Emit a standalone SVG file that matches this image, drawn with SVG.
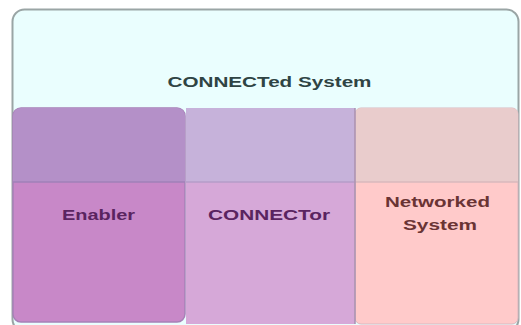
<svg xmlns="http://www.w3.org/2000/svg" width="521" height="325" viewBox="0 0 521 325">
<style>
.t{font-family:"Liberation Sans",Arial,sans-serif;font-weight:bold;font-size:14px;text-anchor:middle}
.col{stroke-width:1.5}
</style>
<rect width="521" height="325" fill="#ffffff"/>
<g id="connected-system">
<rect x="12.5" y="9.5" width="506" height="322" rx="12" fill="#eafefe" stroke="#9aa5a5" stroke-width="2"/>
<text class="t" x="269.5" y="87" fill="#2f4444" textLength="204" lengthAdjust="spacingAndGlyphs">CONNECTed System</text>
</g>
<g id="enabler">
<rect x="13" y="108" width="172" height="214" rx="8" fill="#c888c8" stroke="#a680b6" class="col"/>
<path d="M13,182 V116 a8,8 0 0 1 8,-8 H177 a8,8 0 0 1 8,8 V182 Z" fill="#b490c8"/>
<line x1="13" y1="182" x2="185" y2="182" stroke="#a080b8" stroke-width="1.5"/>
<text class="t" x="98.5" y="220" fill="#5a2460" textLength="73" lengthAdjust="spacingAndGlyphs">Enabler</text>
</g>
<g id="connector">
<rect x="186" y="108" width="169" height="216" fill="#d6a8d8"/>
<rect x="186" y="108" width="169" height="74" fill="#c6b2da"/>
<line x1="186" y1="182" x2="355" y2="182" stroke="#b49cc8" stroke-width="1.5"/>
<text class="t" x="269" y="220" fill="#5a2460" textLength="122" lengthAdjust="spacingAndGlyphs">CONNECTor</text>
</g>
<g id="networked-system">
<rect x="355" y="108" width="163" height="216" rx="6" fill="#ffcaca" stroke="#d8b8c0" stroke-width="1"/>
<path d="M355,182 V114 a6,6 0 0 1 6,-6 H512 a6,6 0 0 1 6,6 V182 Z" fill="#e9cccc"/>
<line x1="355" y1="182" x2="518" y2="182" stroke="#d8b8bc" stroke-width="1.5"/>
<line x1="355" y1="108" x2="355" y2="324" stroke="#a890b0" stroke-width="1.5"/>
<text class="t" x="437.5" y="207" fill="#6a3434" textLength="105" lengthAdjust="spacingAndGlyphs">Networked</text>
<text class="t" x="440" y="230" fill="#6a3434" textLength="74" lengthAdjust="spacingAndGlyphs">System</text>
</g>
<g id="connectors"></g>
</svg>
